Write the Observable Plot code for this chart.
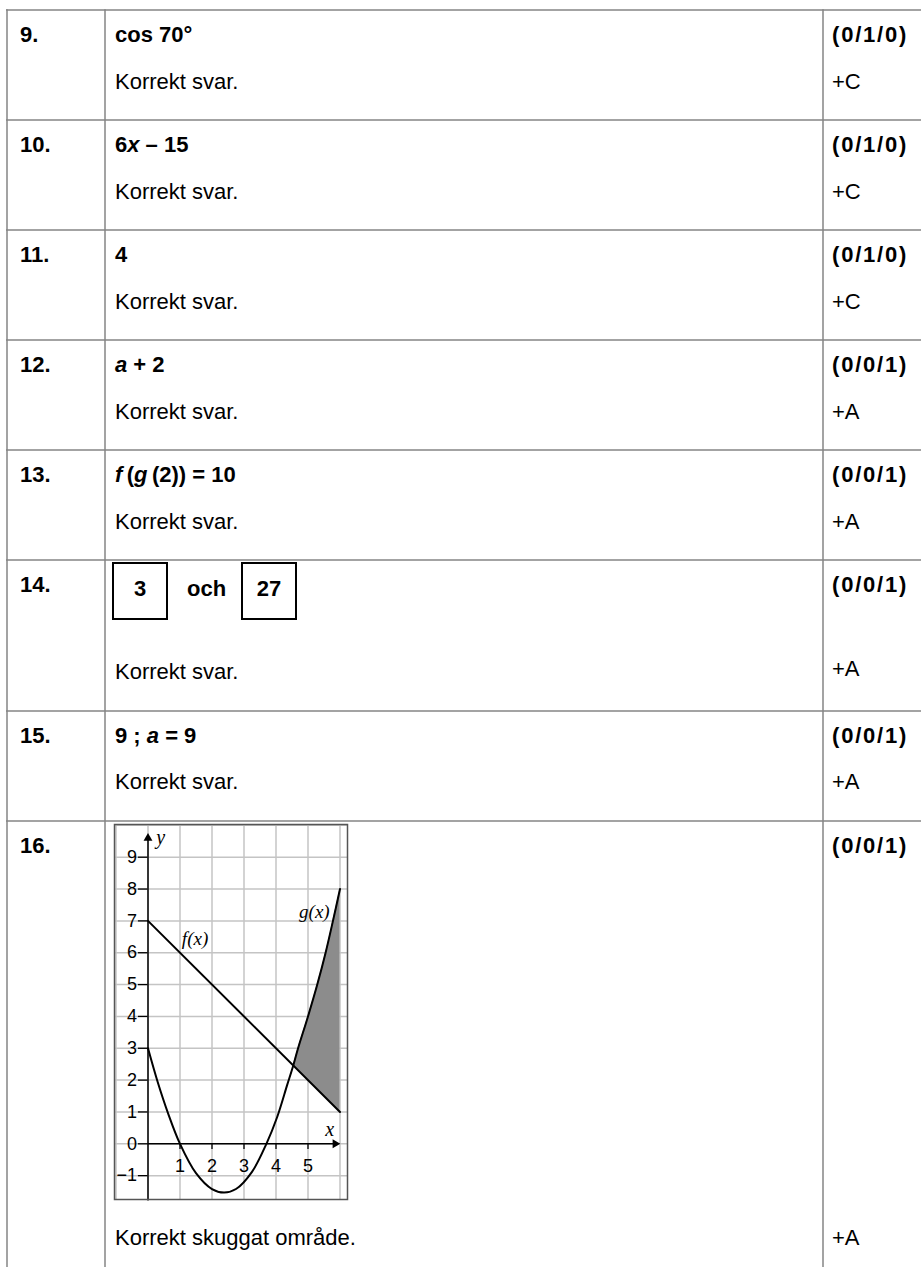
<!DOCTYPE html>
<html>
<head>
<meta charset="utf-8">
<script src="https://cdn.jsdelivr.net/npm/d3@7"></script>
<script src="https://cdn.jsdelivr.net/npm/@observablehq/plot@0.6"></script>
<style>
html, body { margin: 0; padding: 0; background: #fff; }
#page { position: relative; width: 921px; height: 1267px; overflow: hidden; font-family: "Liberation Sans", Arial, sans-serif; }
#table { position: absolute; left: 0; top: 0; }
#table text { white-space: pre; fill: #000; }
#chart { position: absolute; left: 113px; top: 823px; }
</style>
</head>
<body>
<div id="page">
  <svg id="table" width="921" height="1267"></svg>
  <div id="chart"></div>
</div>
<script>
// ---------- table content ----------
const rowNumbers = ["9.", "10.", "11.", "12.", "13.", "14.", "15.", "16."];
const answers = [
  [["cos 70°"]],
  [["6"], ["x", true], [" – 15"]],
  [["4"]],
  [["a", true], [" + 2"]],
  [["f", true], ["\u2009("], ["g", true], ["\u2009(2)) = 10"]],
  null,
  [["9 ; "], ["a", true], [" = 9"]],
  null
];
const boxAnswers = ["3", "27"];
const boxJoin = "och";
const comments = ["Korrekt svar.", "Korrekt svar.", "Korrekt svar.", "Korrekt svar.", "Korrekt svar.", "Korrekt svar.", "Korrekt svar.", "Korrekt skuggat område."];
const points = ["(0/1/0)", "(0/1/0)", "(0/1/0)", "(0/0/1)", "(0/0/1)", "(0/0/1)", "(0/0/1)", "(0/0/1)"];
const credits = ["+C", "+C", "+C", "+A", "+A", "+A", "+A", "+A"];

// ---------- chart data (problem 16) ----------
const gridX = [-1, 0, 1, 2, 3, 4, 5, 6];
const gridY = [-1, 0, 1, 2, 3, 4, 5, 6, 7, 8, 9, 10];
const yTickValues = [-1, 0, 1, 2, 3, 4, 5, 6, 7, 8, 9];
const yTickLabels = ["−1", "0", "1", "2", "3", "4", "5", "6", "7", "8", "9"];
const xTickValues = [1, 2, 3, 4, 5];
const xTickLabels = ["1", "2", "3", "4", "5"];
const fX = [0, 6];
const fY = [7, 1];
const gX = [0, 0.3, 0.63, 1.0, 1.5, 2.0, 2.38, 2.75, 3.25, 3.7, 4.04, 4.35, 4.54, 4.69, 5.0, 5.29, 5.55, 5.78, 6.0];
const gY = [3, 1.95, 0.95, 0, -0.92, -1.42, -1.53, -1.42, -0.88, 0, 0.85, 1.85, 2.46, 3, 4, 5, 6, 7, 8];
const shadeX = [4.54, 4.69, 5.0, 5.29, 5.55, 5.78, 6.0];
const shadeLow = [2.46, 2.31, 2.0, 1.71, 1.45, 1.22, 1.0];
const shadeHigh = [2.46, 3, 4, 5, 6, 7, 8];
const curveNames = ["f(x)", "g(x)"];
const curveNameX = [1.47, 5.2];
const curveNameY = [6.42, 7.28];
const axisNames = ["y", "x"];
const axisNameX = [0.4, 5.68];
const axisNameY = [9.62, 0.45];
const yAxisSpan = [-1.8, 9.6];
const xAxisSpan = [0, 5.85];

// ---------- draw table ----------
const rowTops = [10, 120, 230, 340, 450, 560, 711, 821];
const commentY = [89, 199, 309, 419, 529, 679, 789, 1245];
const creditY = [89, 199, 309, 419, 529, 676, 789, 1245];
const lineColor = "#858585";
const svg = d3.select("#table");
rowTops.forEach(t => {
  svg.append("line").attr("x1", 6).attr("x2", 921).attr("y1", t).attr("y2", t)
    .attr("stroke", lineColor).attr("stroke-width", 1.5);
});
[7, 105, 823].forEach(x => {
  svg.append("line").attr("x1", x).attr("x2", x).attr("y1", 9.25).attr("y2", 1267)
    .attr("stroke", lineColor).attr("stroke-width", 1.5);
});
function rich(x, y, segs, weight, extra) {
  const t = svg.append("text").attr("x", x).attr("y", y)
    .attr("font-size", 22).attr("font-weight", weight)
    .attr("font-family", '"Liberation Sans", Arial, sans-serif');
  if (extra) extra(t);
  segs.forEach(([s, it]) => {
    const sp = t.append("tspan").text(s);
    if (it) sp.attr("font-style", "italic");
  });
  return t;
}
rowTops.forEach((top, i) => {
  rich(20, top + 32, [[rowNumbers[i]]], "bold");
  if (answers[i]) rich(115, top + 32, answers[i], "bold");
  rich(115, commentY[i], [[comments[i]]], "normal");
  rich(832, top + 32, [[points[i]]], "bold", t => t.attr("letter-spacing", 1.8));
  rich(832, creditY[i], [[credits[i]]], "normal");
});
// problem 14 boxes
const boxLeft = [113, 242];
boxAnswers.forEach((v, k) => {
  svg.append("rect").attr("x", boxLeft[k]).attr("y", 563).attr("width", 54).attr("height", 56)
    .attr("fill", "none").attr("stroke", "#000").attr("stroke-width", 2);
  rich(boxLeft[k] + 27, 596, [[v]], "bold", t => t.attr("text-anchor", "middle"));
});
rich(187, 596, [[boxJoin]], "bold");

// ---------- draw chart with Plot ----------
const gData = gX.map((x, i) => ({x, y: gY[i]}));
const fData = fX.map((x, i) => ({x, y: fY[i]}));
const shade = shadeX.map((x, i) => ({x, lo: shadeLow[i], hi: shadeHigh[i]}));
const yTicks = yTickValues.map((v, i) => ({v, label: yTickLabels[i]}));
const xTicks = xTickValues.map((v, i) => ({v, label: xTickLabels[i]}));
const names = curveNames.map((t, i) => ({t, x: curveNameX[i], y: curveNameY[i]}));
const anames = axisNames.map((t, i) => ({t, x: axisNameX[i], y: axisNameY[i]}));
const serif = '"Liberation Serif", "DejaVu Serif", serif';

const chart = Plot.plot({
  width: 235,
  height: 377,
  marginLeft: 1, marginRight: 1, marginTop: 1, marginBottom: 1,
  x: {domain: [0, 6], range: [34.5, 226.5], axis: null},
  y: {domain: [0, 9], range: [320.3, 33.7], axis: null},
  style: {fontFamily: '"Liberation Sans", Arial, sans-serif', fontSize: "18px", color: "#000", background: "transparent", overflow: "visible"},
  marks: [
    Plot.ruleX(gridX, {stroke: "#c4c4c4", strokeWidth: 1.5}),
    Plot.ruleY(gridY, {stroke: "#c4c4c4", strokeWidth: 1.5}),
    Plot.areaY(shade, {x: "x", y1: "lo", y2: "hi", fill: "#8c8c8c", curve: "catmull-rom"}),
    Plot.ruleX([0], {y1: () => yAxisSpan[0], y2: () => yAxisSpan[1], stroke: "#000", strokeWidth: 1.5}),
    Plot.ruleY([0], {x1: () => xAxisSpan[0], x2: () => xAxisSpan[1], stroke: "#000", strokeWidth: 1.5}),
    Plot.dot([0], {x: () => 0, y: () => yAxisSpan[1], symbol: "triangle", r: 3.3, fill: "#000", stroke: "none"}),
    Plot.dot([0], {x: () => xAxisSpan[1], y: () => 0, symbol: "triangle", r: 3.3, fill: "#000", stroke: "none", rotate: 90}),
    Plot.ruleY(yTicks, {y: "v", x1: () => -0.3, x2: () => 0, stroke: "#000", strokeWidth: 1.3}),
    Plot.ruleX(xTicks, {x: "v", y1: () => -0.18, y2: () => 0, stroke: "#000", strokeWidth: 1.3}),
    Plot.line(fData, {x: "x", y: "y", stroke: "#000", strokeWidth: 2}),
    Plot.line(gData, {x: "x", y: "y", stroke: "#000", strokeWidth: 2, curve: "catmull-rom"}),
    Plot.text(yTicks, {x: () => -0.34, y: "v", text: "label", textAnchor: "end", fontSize: 18, fill: "#000"}),
    Plot.text(xTicks, {x: "v", y: () => -0.7, text: "label", textAnchor: "middle", fontSize: 18, fill: "#000"}),
    Plot.text(names, {x: "x", y: "y", text: "t", fontFamily: serif, fontStyle: "italic", fontSize: 19, fill: "#000"}),
    Plot.text(anames, {x: "x", y: "y", text: "t", fontFamily: serif, fontStyle: "italic", fontSize: 20, fill: "#000"}),
    Plot.frame({stroke: "#555", strokeWidth: 1.5})
  ]
});
document.getElementById("chart").appendChild(chart);
</script>
</body>
</html>
